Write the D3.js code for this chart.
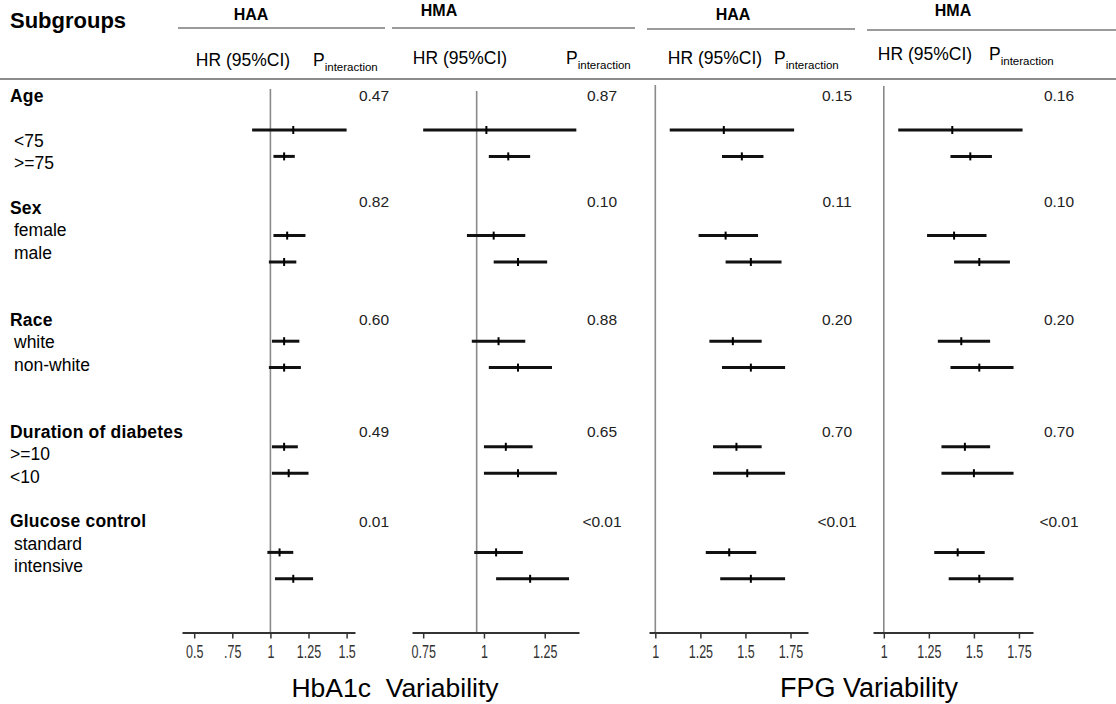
<!DOCTYPE html>
<html>
<head>
<meta charset="utf-8">
<script src="https://cdn.jsdelivr.net/npm/d3@7"></script>
<style>
  body { margin: 0; background: #fff; }
  svg { display: block; font-family: Arial, "Liberation Sans", sans-serif; }
</style>
</head>
<body>
<div id="forest"></div>
<script>
// Données

const groups = ["Age", "Sex", "Race", "Duration of diabetes", "Glucose control"];
const subgroups = ["<75", ">=75", "female", "male", "white", "non-white", ">=10", "<10", "standard", "intensive"];

// HbA1c - HAA
const hrHbHAA = [1.15, 1.09, 1.11, 1.09, 1.09, 1.09, 1.09, 1.12, 1.06, 1.15];
const loHbHAA = [0.88, 1.02, 1.02, 0.99, 1.01, 0.99, 1.01, 1.01, 0.98, 1.03];
const hiHbHAA = [1.50, 1.16, 1.23, 1.17, 1.19, 1.20, 1.18, 1.25, 1.15, 1.28];
const pHbHAA = ["0.47", "0.82", "0.60", "0.49", "0.01"];

// HbA1c - HMA
const hrHbHMA = [1.01, 1.10, 1.04, 1.14, 1.06, 1.14, 1.09, 1.14, 1.05, 1.19];
const loHbHMA = [0.75, 1.02, 0.93, 1.04, 0.95, 1.02, 1.00, 1.00, 0.96, 1.05];
const hiHbHMA = [1.38, 1.19, 1.17, 1.26, 1.17, 1.28, 1.20, 1.30, 1.16, 1.35];
const pHbHMA = ["0.87", "0.10", "0.88", "0.65", "<0.01"];

// FPG - HAA
const hrFpgHAA = [1.38, 1.48, 1.39, 1.53, 1.43, 1.53, 1.45, 1.51, 1.41, 1.53];
const loFpgHAA = [1.08, 1.37, 1.24, 1.39, 1.30, 1.37, 1.32, 1.32, 1.28, 1.36];
const hiFpgHAA = [1.77, 1.60, 1.57, 1.70, 1.59, 1.72, 1.59, 1.72, 1.56, 1.72];
const pFpgHAA = ["0.15", "0.11", "0.20", "0.70", "<0.01"];

// FPG - HMA
const hrFpgHMA = [1.38, 1.48, 1.39, 1.53, 1.43, 1.53, 1.45, 1.50, 1.41, 1.53];
const loFpgHMA = [1.08, 1.37, 1.24, 1.39, 1.30, 1.37, 1.32, 1.32, 1.28, 1.36];
const hiFpgHMA = [1.77, 1.60, 1.57, 1.70, 1.59, 1.72, 1.59, 1.72, 1.56, 1.72];
const pFpgHMA = ["0.16", "0.10", "0.20", "0.70", "<0.01"];

// Graduations
const ticksHbHAA = [0.5, 0.75, 1, 1.25, 1.5];
const tickLabelsHbHAA = ["0.5", ".75", "1", "1.25", "1.5"];
const ticksHbHMA = [0.75, 1, 1.25];
const tickLabelsHbHMA = ["0.75", "1", "1.25"];
const ticksFpg = [1, 1.25, 1.5, 1.75];
const tickLabelsFpg = ["1", "1.25", "1.5", "1.75"];

//---------------------------------------------------------------------------------------

// Mise en page

const width = 1116;
const height = 704;
const axisY = 632.5;

// ligne de texte (étiquettes) et ligne de barres
const yLine = d3.scaleLinear().domain([0, 21]).range([96, 566]);
const yRow = d3.scaleLinear().domain([0, 17]).range([130, 578.8]);
const groupLine = [0, 5, 10, 15, 19];
const subLine = [2, 3, 6, 7, 11, 12, 16, 17, 20, 21];
const subIndent = [14, 14, 14, 14, 14, 14, 10, 10, 14, 14];
const rowIdx = [0, 1, 4, 5, 8, 9, 12, 13, 16, 17];
const pLine = [0, 4.7, 10, 15, 19];

const panels = [
  { domain: [0.42, 1.555], range: [182, 355], ref: 1, hr: hrHbHAA, lo: loHbHAA, hi: hiHbHAA, p: pHbHAA, pX: 374,
    ticks: ticksHbHAA, tickLabels: tickLabelsHbHAA, head: "HAA", headX: 251, headY: 20, hline: [178, 385, 28],
    hrX: 243, hrY: 60, pHeadX: 313, top: 89 },
  { domain: [0.704, 1.391], range: [412, 579], ref: 0.97, hr: hrHbHMA, lo: loHbHMA, hi: hiHbHMA, p: pHbHMA, pX: 602,
    ticks: ticksHbHMA, tickLabels: tickLabelsHbHMA, head: "HMA", headX: 439, headY: 16, hline: [392, 635, 28],
    hrX: 460, hrY: 58, pHeadX: 566, top: 91 },
  { domain: [0.965, 1.847], range: [649, 808], ref: 1, hr: hrFpgHAA, lo: loFpgHAA, hi: hiFpgHAA, p: pFpgHAA, pX: 837,
    ticks: ticksFpg, tickLabels: tickLabelsFpg, head: "HAA", headX: 733, headY: 20, hline: [647, 855, 29],
    hrX: 715, hrY: 58, pHeadX: 774, top: 85 },
  { domain: [0.94, 1.828], range: [873, 1033], ref: 1, hr: hrFpgHMA, lo: loFpgHMA, hi: hiFpgHMA, p: pFpgHMA, pX: 1059,
    ticks: ticksFpg, tickLabels: tickLabelsFpg, head: "HMA", headX: 953, headY: 16, hline: [867, 1116, 30],
    hrX: 925, hrY: 54, pHeadX: 989, top: 86 }
];

const svg = d3.select("#forest")
  .append("svg")
  .attr("width", width)
  .attr("height", height)
  .attr("viewBox", [0, 0, width, height]);

//---------------------------------------------------------------------------------------

// En-tête

svg.append("text")
  .attr("x", 10).attr("y", 28)
  .attr("font-size", "22px").attr("font-weight", "bold")
  .text("Subgroups");

// ligne de séparation sous l'en-tête
svg.append("line")
  .attr("x1", 0).attr("x2", width)
  .attr("y1", 79).attr("y2", 79)
  .attr("stroke", "#8c8c8c").attr("stroke-width", 2);

//---------------------------------------------------------------------------------------

// Étiquettes des sous-groupes

svg.append("g")
  .selectAll("text")
  .data(groups)
  .join("text")
  .attr("x", 10)
  .attr("y", (d, i) => yLine(groupLine[i]))
  .attr("dy", "0.35em")
  .attr("font-size", "17.5px")
  .attr("font-weight", "bold")
  .attr("letter-spacing", "0.2")
  .text(d => d);

svg.append("g")
  .selectAll("text")
  .data(subgroups)
  .join("text")
  .attr("x", (d, i) => subIndent[i])
  .attr("y", (d, i) => yLine(subLine[i]))
  .attr("dy", "0.35em")
  .attr("font-size", "17.5px")
  .text(d => d);

//---------------------------------------------------------------------------------------

// Panneaux

panels.forEach(pn => {
  const x = d3.scaleLinear().domain(pn.domain).range(pn.range);
  const g = svg.append("g");

  // titre du panneau et trait
  g.append("text")
    .attr("x", pn.headX).attr("y", pn.headY)
    .attr("text-anchor", "middle")
    .attr("font-size", "16px").attr("font-weight", "bold")
    .text(pn.head);

  g.append("line")
    .attr("x1", pn.hline[0]).attr("x2", pn.hline[1])
    .attr("y1", pn.hline[2]).attr("y2", pn.hline[2])
    .attr("stroke", "#7a7a7a").attr("stroke-width", 1.5);

  g.append("text")
    .attr("x", pn.hrX).attr("y", pn.hrY)
    .attr("dy", "0.35em")
    .attr("text-anchor", "middle")
    .attr("font-size", "17.5px")
    .text("HR (95%CI)");

  const ph = g.append("text")
    .attr("x", pn.pHeadX).attr("y", pn.hrY)
    .attr("dy", "0.35em")
    .attr("font-size", "17.5px");
  ph.append("tspan").text("P");
  ph.append("tspan").attr("font-size", "11.5px").attr("dy", "5").text("interaction");

  // ligne de référence
  g.append("line")
    .attr("x1", x(pn.ref)).attr("x2", x(pn.ref))
    .attr("y1", pn.top).attr("y2", axisY)
    .attr("stroke", "#8a8a8a").attr("stroke-width", 1.6);

  // axe
  g.append("g")
    .attr("transform", `translate(0, ${axisY})`)
    .call(d3.axisBottom(x)
      .tickValues(pn.ticks)
      .tickFormat((d, i) => pn.tickLabels[i])
      .tickSize(6)
      .tickSizeOuter(0))
    .call(a => a.select(".domain").attr("stroke", "#333").attr("stroke-width", 2))
    .call(a => a.selectAll(".tick line").attr("stroke", "#333").attr("stroke-width", 1.5))
    .call(a => a.selectAll(".tick text")
      .attr("y", 12)
      .attr("transform", "scale(0.66, 1)")
      .attr("fill", "#333")
      .attr("font-family", "'Liberation Sans Narrow', 'Arial Narrow', sans-serif")
      .attr("font-size", "19px"));

  // intervalles de confiance
  g.append("g")
    .selectAll("line")
    .data(pn.hr)
    .join("line")
    .attr("x1", (d, i) => x(pn.lo[i]))
    .attr("x2", (d, i) => x(pn.hi[i]))
    .attr("y1", (d, i) => yRow(rowIdx[i]))
    .attr("y2", (d, i) => yRow(rowIdx[i]))
    .attr("stroke", "#111")
    .attr("stroke-width", 3);

  // estimation ponctuelle
  g.append("g")
    .selectAll("line")
    .data(pn.hr)
    .join("line")
    .attr("x1", d => x(d))
    .attr("x2", d => x(d))
    .attr("y1", (d, i) => yRow(rowIdx[i]) - 4)
    .attr("y2", (d, i) => yRow(rowIdx[i]) + 4)
    .attr("stroke", "#000")
    .attr("stroke-width", 2);

  // p d'interaction
  g.append("g")
    .selectAll("text")
    .data(pn.p)
    .join("text")
    .attr("x", pn.pX)
    .attr("y", (d, i) => yLine(pLine[i]))
    .attr("dy", "0.35em")
    .attr("text-anchor", "middle")
    .attr("font-size", "15.5px")
    .attr("fill", "#222")
    .text(d => d);
});

//---------------------------------------------------------------------------------------

// Titres du bas

svg.append("text")
  .attr("x", 395).attr("y", 697)
  .attr("text-anchor", "middle")
  .attr("font-size", "26.5px")
  .style("white-space", "pre")
  .text("HbA1c  Variability");

svg.append("text")
  .attr("x", 869).attr("y", 697)
  .attr("text-anchor", "middle")
  .attr("font-size", "27px")
  .text("FPG Variability");
</script>
</body>
</html>
